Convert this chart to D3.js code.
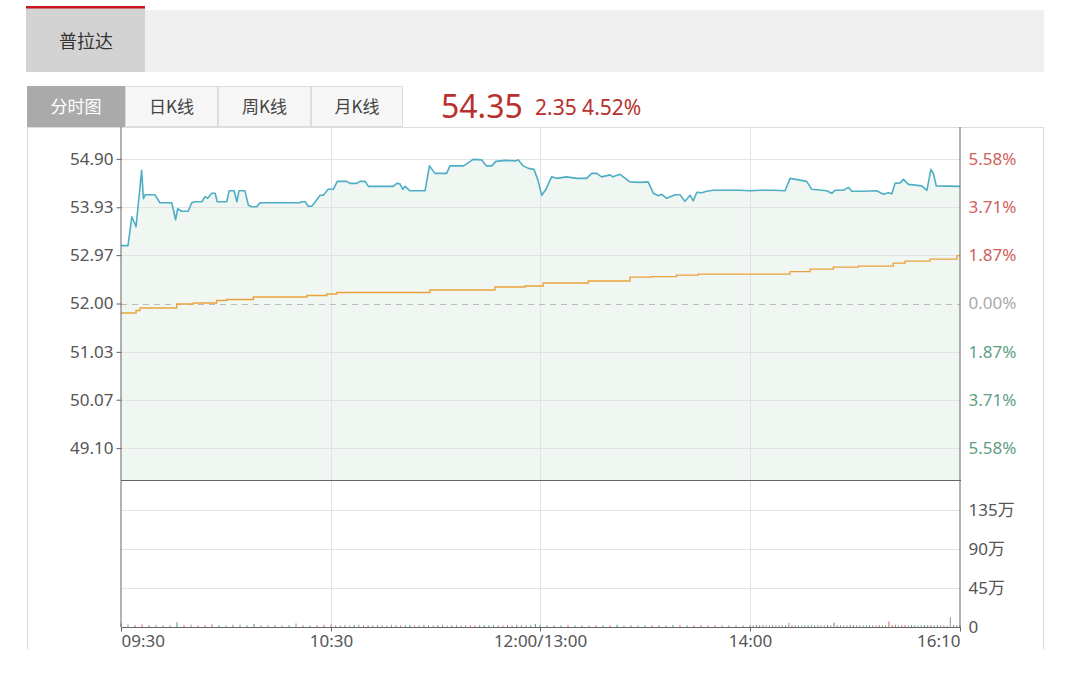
<!DOCTYPE html>
<html>
<head>
<meta charset="utf-8">
<script src="https://cdn.jsdelivr.net/npm/d3@7/dist/d3.min.js"></script>
<style>
  html, body { margin: 0; padding: 0; background: #fff; }
  svg { display: block; }
  text { font-family: "Noto Sans", "Noto Sans CJK SC", sans-serif; }
  .cjk { font-family: "Noto Sans CJK SC", "Noto Sans", sans-serif; }
</style>
</head>
<body>
<svg id="chart" width="1080" height="696"></svg>
<script>
// ---------------- data ----------------
const stockName = "普拉达";
const tabLabels = ["分时图", "日K线", "周K线", "月K线"];
const lastPrice = "54.35";
const changeText = "2.35 4.52%";
const prevClose = 52.00;

// trading minutes since 09:30 (150 = 12:00 / 13:00, 340 = 16:10)
const timeTicks = [0, 60, 150, 210, 340];
const timeLabels = ["09:30", "10:30", "12:00/13:00", "14:00", "16:10"];

const priceTicks = [49.10, 50.07, 51.03, 52.00, 52.97, 53.93, 54.90];
const pctLabels = ["5.58%", "3.71%", "1.87%", "0.00%", "1.87%", "3.71%", "5.58%"];
const volTicks = [0, 450000, 900000, 1350000];
const volLabels = ["0", "45万", "90万", "135万"];

const priceT = [0, 1.1, 2, 3.1, 4.3, 5.9, 6.4, 6.9, 9.7, 11.1, 14.5, 15.6, 16.2, 17.3, 19.2, 20.2, 21.1, 23.1, 24, 24.8,
  25.9, 26.9, 27.5, 30.2, 30.9, 32.3, 33.1, 33.7, 35.4, 36.4, 37.3, 38.8, 39.7, 51.1, 51.6, 52.6, 53.5, 54.5, 55.4, 56.9,
  57.8, 59.2, 61, 62.7, 66.8, 68.2, 71.1, 72.5, 74.7, 76.1, 86.8, 88.3, 89.7, 90.9, 91.9, 94, 100.5, 102.4, 104.8, 109.8,
  111.2, 117, 118.4, 121.2, 124.9, 127, 129.2, 131, 134.9, 139.2, 140.7, 142.8, 145, 147.4, 149, 150.5, 151.7, 153.3, 154.8, 157.6,
  160.5, 163.3, 164.8, 166.2, 167.6, 170, 170.8, 172.9, 173.8, 175.7, 178.6, 180.9, 182.4, 183.8, 184.8, 186.2, 188.6, 190, 191.4, 192.9,
  193.8, 194.8, 196.2, 197.6, 199.5, 207.1, 210, 216.2, 224.4, 231.7, 234.8, 245.1, 248.2, 257.5, 260.6, 262.6, 267.8, 270.9, 273, 280.2,
  288.5, 292.6, 295.7, 297.8, 299.8, 302.9, 305, 308.1, 316.4, 319.5, 322, 323.6, 325.3, 340];
const priceV = [53.16, 53.16, 53.16, 53.74, 53.54, 54.67, 54.10, 54.18, 54.18, 54.02, 54.02, 53.68, 53.90, 53.85, 53.85, 54.02, 54.04, 54.04, 54.14, 54.11,
  54.21, 54.21, 54.04, 54.04, 54.26, 54.26, 54.04, 54.26, 54.26, 53.97, 53.94, 53.94, 54.02, 54.02, 54.04, 54.04, 53.95, 53.95, 54.03, 54.17,
  54.17, 54.29, 54.29, 54.45, 54.45, 54.41, 54.41, 54.45, 54.45, 54.35, 54.35, 54.41, 54.40, 54.29, 54.35, 54.26, 54.26, 54.76, 54.61, 54.61,
  54.76, 54.76, 54.80, 54.89, 54.88, 54.76, 54.76, 54.85, 54.87, 54.86, 54.88, 54.76, 54.71, 54.69, 54.49, 54.17, 54.29, 54.54, 54.51, 54.54,
  54.51, 54.51, 54.61, 54.61, 54.54, 54.58, 54.54, 54.59, 54.54, 54.44, 54.43, 54.44, 54.21, 54.16, 54.19, 54.11, 54.18, 54.18, 54.05, 54.17,
  54.06, 54.23, 54.22, 54.25, 54.27, 54.27, 54.26, 54.27, 54.27, 54.26, 54.51, 54.45, 54.29, 54.26, 54.21, 54.27, 54.27, 54.33, 54.25, 54.25,
  54.26, 54.19, 54.22, 54.20, 54.41, 54.42, 54.49, 54.39, 54.36, 54.27, 54.69, 54.60, 54.36, 54.35];

const avgT = [0, 4, 4.3, 5.4, 14.9, 15.9, 20.7, 27.3, 30.2, 37.8, 53.1, 58.8, 62.5, 102.6, 130.6, 143.5, 150.9, 163.8, 175.7, 181.9,
  189, 195.2, 232.7, 234.8, 247.2, 261.6, 277.1, 294.6, 298.7, 306, 321.4, 334.9, 338.1, 340];
const avgV = [51.81, 51.81, 51.86, 51.91, 51.91, 51.99, 52.01, 52.06, 52.08, 52.13, 52.16, 52.19, 52.22, 52.27, 52.33, 52.35, 52.41, 52.45, 52.53, 52.54,
  52.57, 52.59, 52.59, 52.64, 52.69, 52.73, 52.75, 52.75, 52.81, 52.85, 52.89, 52.89, 52.96, 52.96];

// volume every 2 trading minutes, in 万 shares
const volStep = 2;
const volWan = [4.2,3.1,2.4,3.0,2.2,2.6,1.8,2.3,5.6,2.1,
  2.8,1.9,2.4,3.2,2.0,1.7,2.5,2.9,2.2,3.4,
  1.8,2.1,2.6,1.9,2.3,4.1,2.0,1.6,2.2,2.5,
  2.8,1.9,2.0,2.4,1.7,2.2,2.6,1.8,2.1,1.9,
  2.3,2.0,1.7,2.5,2.2,1.8,2.0,2.4,1.9,2.1,
  2.6,2.2,1.8,2.0,2.3,1.7,2.1,2.5,1.9,2.2,
  2.0,1.8,2.4,2.1,1.9,2.3,1.7,2.0,2.2,1.9,
  2.5,2.1,1.8,2.3,3.6,2.0,1.9,2.2,1.8,2.4,
  2.1,2.0,1.7,2.3,1.9,2.2,2.6,1.8,2.0,2.1,
  1.9,2.3,2.0,1.8,2.5,2.2,1.9,2.1,2.4,1.8,
  2.0,2.2,1.9,2.3,2.1,1.8,2.0,2.6,2.2,2.1,
  1.9,2.1,2.4,1.8,2.0,2.3,1.9,4.8,2.0,2.2,
  2.1,1.8,2.3,2.0,2.5,1.9,2.2,2.1,1.8,2.4,
  2.0,5.2,1.9,2.3,2.1,1.8,2.6,2.2,2.0,2.2,
  1.9,2.1,2.4,2.0,1.8,2.3,2.1,1.9,6.4,2.0,
  2.5,1.8,2.1,2.3,1.9,2.0,2.2,1.8,2.4,2.1,
  2.0,2.3,1.9,2.2,2.0,2.1,1.8,11.5,2.6,2.2,
  2.0];

// ---------------- layout ----------------
const svg = d3.select("#chart");
const L = 121, R = 960, PT = 127, PB = 480, VB = 627;

// header tab bar
svg.append("rect").attr("x", 26).attr("y", 10).attr("width", 1018).attr("height", 62).attr("fill", "#efefef");
svg.append("rect").attr("x", 26).attr("y", 8).attr("width", 119).attr("height", 64).attr("fill", "#d3d3d3");
svg.append("rect").attr("x", 26).attr("y", 6).attr("width", 119).attr("height", 2.5).attr("fill", "#c8161d");
svg.append("text").attr("class", "cjk").attr("x", 86).attr("y", 48).attr("text-anchor", "middle")
  .attr("font-size", 18).attr("fill", "#333").text(stockName);

// period buttons
const btnX = [27, 125, 218, 311, 403];
tabLabels.forEach((t, i) => {
  const active = i === 0;
  svg.append("rect").attr("x", btnX[i] + 0.5).attr("y", 86.5).attr("width", btnX[i + 1] - btnX[i] - 1).attr("height", 40)
    .attr("fill", active ? "#aaaaaa" : "#f6f6f6").attr("stroke", active ? "#aaaaaa" : "#dddddd");
  svg.append("text").attr("class", "cjk").attr("x", (btnX[i] + btnX[i + 1]) / 2).attr("y", 113)
    .attr("text-anchor", "middle").attr("font-size", 17).attr("fill", active ? "#fff" : "#444").text(t);
});

// price header
svg.append("text").attr("x", 441).attr("y", 118).attr("font-size", 32).attr("fill", "#b8312f").text(lastPrice);
svg.append("text").attr("x", 535).attr("y", 115).attr("font-size", 21).attr("fill", "#b8312f").text(changeText);

// outer container lines
svg.append("line").attr("x1", 27.5).attr("x2", 27.5).attr("y1", 127).attr("y2", 649).attr("stroke", "#d8d8d8");
svg.append("line").attr("x1", 1043.5).attr("x2", 1043.5).attr("y1", 127).attr("y2", 649).attr("stroke", "#d8d8d8");
svg.append("line").attr("x1", 27).attr("x2", 1044).attr("y1", 127.5).attr("y2", 127.5).attr("stroke", "#dddddd");

// ---------------- scales ----------------
const x = d3.scaleLinear().domain(timeTicks).range([L, 331, 540, 750, R]);
const half = 3.54;
const y = d3.scaleLinear().domain([prevClose - half, prevClose + half]).range([PB, PT]);
const yv = d3.scaleLinear().domain([0, 1700000]).range([VB, PB]);

const price = priceT.map((t, i) => ({ t, v: priceV[i] }));
const avg = avgT.map((t, i) => ({ t, v: avgV[i] }));
const vols = volWan.map((w, i) => ({ t: i * volStep, v: w * 10000 }));

// area under price
svg.append("path").datum(price)
  .attr("d", d3.area().x(d => x(d.t)).y0(PB).y1(d => y(d.v)))
  .attr("fill", "#f0f7f2");

// horizontal grid (price)
const g = svg.append("g");
priceTicks.forEach(p => {
  if (Math.abs(p - prevClose) < 1e-6) return;
  g.append("line").attr("x1", L).attr("x2", R).attr("y1", Math.round(y(p)) + 0.5).attr("y2", Math.round(y(p)) + 0.5)
    .attr("stroke", "#e4e4e4");
});
// vertical grid
timeTicks.slice(1, -1).forEach(t => {
  g.append("line").attr("x1", Math.round(x(t)) + 0.5).attr("x2", Math.round(x(t)) + 0.5).attr("y1", PT).attr("y2", VB)
    .attr("stroke", "#e2e2e2");
});
// volume grid
volTicks.slice(1).forEach(v => {
  g.append("line").attr("x1", L).attr("x2", R).attr("y1", Math.round(yv(v)) + 0.5).attr("y2", Math.round(yv(v)) + 0.5)
    .attr("stroke", "#e4e4e4");
});
// prev close dashed
svg.append("line").attr("x1", L).attr("x2", R).attr("y1", Math.round(y(prevClose)) + 0.5).attr("y2", Math.round(y(prevClose)) + 0.5)
  .attr("stroke", "#bbbbbb").attr("stroke-dasharray", "6,5");

// average line
svg.append("path").datum(avg)
  .attr("d", d3.line().x(d => x(d.t)).y(d => y(d.v)).curve(d3.curveStepAfter))
  .attr("fill", "none").attr("stroke", "#eba23e").attr("stroke-width", 1.4);

// price line
svg.append("path").datum(price)
  .attr("d", d3.line().x(d => x(d.t)).y(d => y(d.v)))
  .attr("fill", "none").attr("stroke", "#4eaec6").attr("stroke-width", 1.6).attr("stroke-linejoin", "round");

// volume bars, colored by price direction
const priceAt = t => { let v = priceV[0]; for (let i = 0; i < priceT.length; i++) { if (priceT[i] <= t) v = priceV[i]; } return v; };
const volColor = (d, i) => {
  if (i === 0) return "#d06a62";
  const a = priceAt(d.t), b = priceAt(d.t - volStep);
  return a > b ? "#d06a62" : (a < b ? "#4f9a7c" : "#8f9894");
};
svg.append("g").selectAll("rect").data(vols).join("rect")
  .attr("x", d => x(d.t) - 0.5)
  .attr("y", d => yv(d.v))
  .attr("width", 1)
  .attr("height", d => VB - yv(d.v))
  .attr("fill", volColor);

// ---------------- axes ----------------
const fontSize = 17;
const yAxisL = d3.axisLeft(y).tickValues(priceTicks).tickFormat(d3.format(".2f")).tickSize(5).tickPadding(3);
const gl = svg.append("g").attr("transform", `translate(${L + 0.5},0)`).call(yAxisL);
gl.select(".domain").attr("d", `M-0.5,${PT}V${VB}`).attr("stroke", "#666");
gl.selectAll(".tick line").attr("stroke", "#666");
gl.selectAll("text").attr("font-size", fontSize).attr("fill", "#555").attr("font-family", "Noto Sans, sans-serif");

const pctColor = i => i < 3 ? "#5f9e84" : (i === 3 ? "#aaaaaa" : "#d0605a");
const yAxisR = d3.axisRight(y).tickValues(priceTicks).tickFormat((d, i) => pctLabels[i]).tickSize(0).tickPadding(8);
const gr = svg.append("g").attr("transform", `translate(${R + 0.5},0)`).call(yAxisR);
gr.select(".domain").attr("d", `M-0.5,${PT}V${VB}`).attr("stroke", "#666");
gr.selectAll("text").attr("font-size", fontSize).attr("font-family", "Noto Sans, sans-serif").attr("fill", (d, i) => pctColor(i));

const vAxisR = d3.axisRight(yv).tickValues(volTicks).tickFormat((d, i) => volLabels[i]).tickSize(0).tickPadding(8);
const gvr = svg.append("g").attr("transform", `translate(${R + 0.5},0)`).call(vAxisR);
gvr.select(".domain").remove();
gvr.selectAll("text").attr("font-size", fontSize).attr("fill", "#555").attr("font-family", "Noto Sans, Noto Sans CJK SC, sans-serif");

// separator between price and volume panels
svg.append("line").attr("x1", L).attr("x2", R + 1).attr("y1", PB + 0.5).attr("y2", PB + 0.5).attr("stroke", "#666");

const xAxis = d3.axisBottom(x).tickValues(timeTicks).tickFormat((d, i) => timeLabels[i]).tickSize(4).tickPadding(3);
const gx = svg.append("g").attr("transform", `translate(0,${VB + 0.5})`).call(xAxis);
gx.select(".domain").attr("d", `M${L},0H${R + 1}`).attr("stroke", "#666");
gx.selectAll(".tick line").attr("stroke", "#666");
gx.selectAll("text").attr("font-size", fontSize).attr("fill", "#555").attr("font-family", "Noto Sans, sans-serif")
  .attr("text-anchor", (d, i) => i === 0 ? "start" : (i === timeTicks.length - 1 ? "end" : "middle"));
</script>
</body>
</html>
